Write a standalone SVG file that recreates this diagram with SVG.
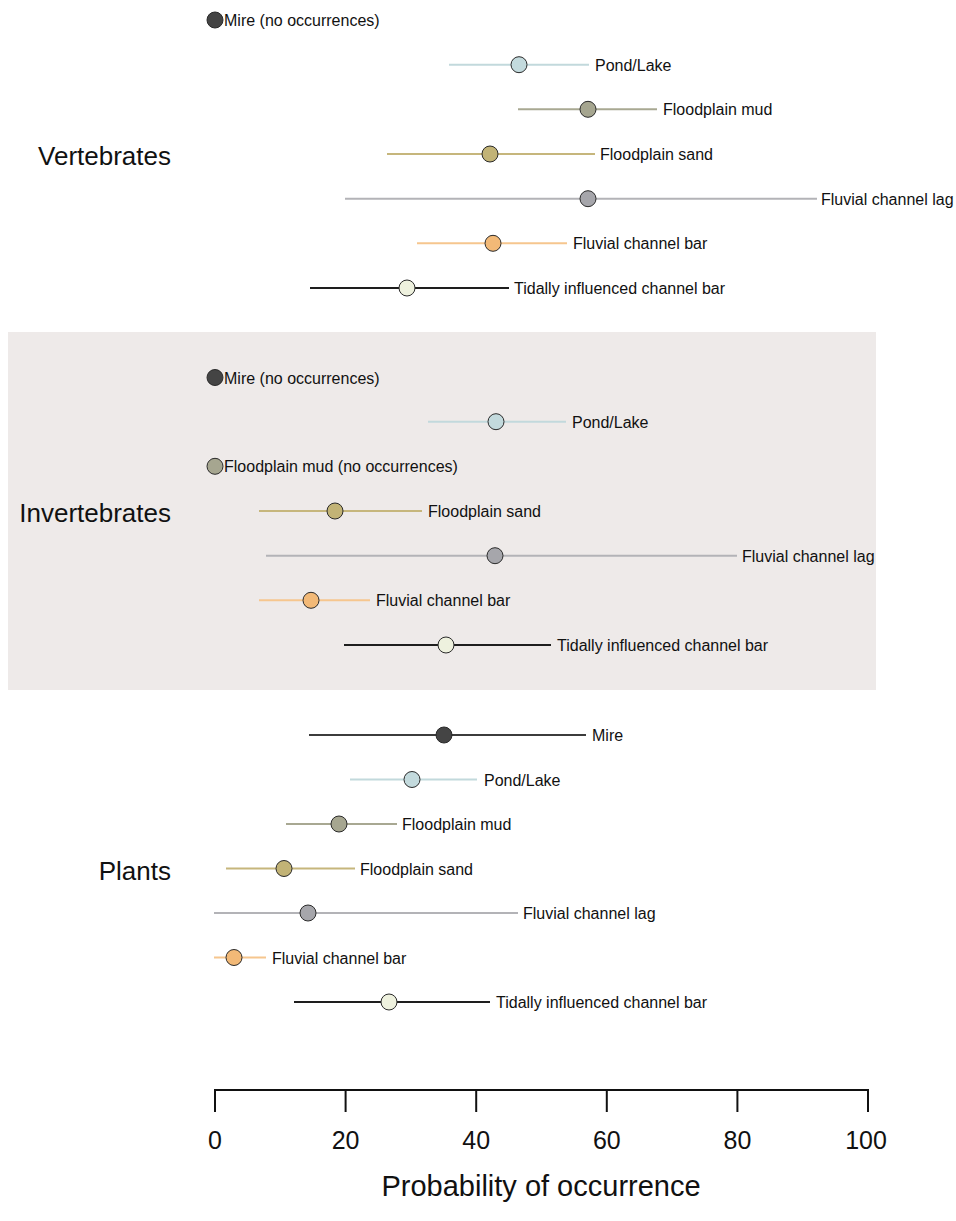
<svg xmlns="http://www.w3.org/2000/svg" width="956" height="1221" viewBox="0 0 956 1221">
<style>
text{font-family:"Liberation Sans",Arial,Helvetica,sans-serif;fill:#111}
.lbl{font-size:16px}
.grp{font-size:26px;text-anchor:end}
.tick{font-size:25px;text-anchor:middle}
.dot{stroke:#2a2a2a;stroke-width:1}
.bar{stroke-width:2;fill:none}
.mire{fill:#444}
.mireL{stroke:#3c3c3c}
.pond{fill:#c3dadd}
.pondL{stroke:#c2d9dc}
.mud{fill:#a6a690}
.mudL{stroke:#a8a892}
.sand{fill:#c2b376}
.sandL{stroke:#c6b67c}
.lag{fill:#a6a6ab}
.lagL{stroke:#b3b3b7}
.fbar{fill:#f2b977}
.fbarL{stroke:#f6c68e}
.tid{fill:#eef1de}
.tidL{stroke:#1e1e1e}
</style>
<rect id="invert-bg" x="8" y="332" width="868" height="358" fill="#eeeae9"/>
<g id="group-labels">
<text class="grp" x="171" y="165">Vertebrates</text>
<text class="grp" x="171" y="522">Invertebrates</text>
<text class="grp" x="171" y="880">Plants</text>
</g>
<g id="connectors">
<line class="bar pondL" x1="449" y1="64.7" x2="589" y2="64.7"/>
<line class="bar mudL" x1="518" y1="109.3" x2="657" y2="109.3"/>
<line class="bar sandL" x1="387" y1="154" x2="595" y2="154"/>
<line class="bar lagL" x1="345" y1="198.7" x2="817" y2="198.7"/>
<line class="bar fbarL" x1="417" y1="243.3" x2="567" y2="243.3"/>
<line class="bar tidL" x1="310" y1="288" x2="509" y2="288"/>
<line class="bar pondL" x1="428" y1="421.7" x2="566" y2="421.7"/>
<line class="bar sandL" x1="259" y1="511" x2="422" y2="511"/>
<line class="bar lagL" x1="266" y1="555.7" x2="737" y2="555.7"/>
<line class="bar fbarL" x1="259" y1="600.3" x2="370" y2="600.3"/>
<line class="bar tidL" x1="344" y1="645" x2="551" y2="645"/>
<line class="bar mireL" x1="309" y1="735" x2="586" y2="735"/>
<line class="bar pondL" x1="350" y1="779.5" x2="477" y2="779.5"/>
<line class="bar mudL" x1="286" y1="824" x2="397" y2="824"/>
<line class="bar sandL" x1="226" y1="868.5" x2="355" y2="868.5"/>
<line class="bar lagL" x1="214" y1="913" x2="518" y2="913"/>
<line class="bar fbarL" x1="214" y1="957.5" x2="266" y2="957.5"/>
<line class="bar tidL" x1="294" y1="1002" x2="490" y2="1002"/>
</g>
<g id="vertebrates">
<g id="v-mire"><circle class="dot mire" cx="215" cy="20" r="8"/><text class="lbl" x="224" y="26">Mire (no occurrences)</text></g>
<g id="v-pond"><circle class="dot pond" cx="519" cy="64.7" r="8"/><text class="lbl" x="595" y="70.7">Pond/Lake</text></g>
<g id="v-mud"><circle class="dot mud" cx="588" cy="109.3" r="8"/><text class="lbl" x="663" y="115.3">Floodplain mud</text></g>
<g id="v-sand"><circle class="dot sand" cx="490" cy="154" r="8"/><text class="lbl" x="600" y="160">Floodplain sand</text></g>
<g id="v-lag"><circle class="dot lag" cx="588" cy="198.7" r="8"/><text class="lbl" x="821" y="204.7">Fluvial channel lag</text></g>
<g id="v-bar"><circle class="dot fbar" cx="493" cy="243.3" r="8"/><text class="lbl" x="573" y="249.3">Fluvial channel bar</text></g>
<g id="v-tid"><circle class="dot tid" cx="407" cy="288" r="8"/><text class="lbl" x="514" y="294">Tidally influenced channel bar</text></g>
</g>
<g id="invertebrates">
<g id="i-mire"><circle class="dot mire" cx="215" cy="377.5" r="8"/><text class="lbl" x="224" y="383.5">Mire (no occurrences)</text></g>
<g id="i-pond"><circle class="dot pond" cx="496" cy="421.7" r="8"/><text class="lbl" x="572" y="427.7">Pond/Lake</text></g>
<g id="i-mud"><circle class="dot mud" cx="215" cy="466.3" r="8"/><text class="lbl" x="224" y="472.3">Floodplain mud (no occurrences)</text></g>
<g id="i-sand"><circle class="dot sand" cx="335" cy="511" r="8"/><text class="lbl" x="428" y="517">Floodplain sand</text></g>
<g id="i-lag"><circle class="dot lag" cx="495" cy="555.7" r="8"/><text class="lbl" x="742" y="561.7">Fluvial channel lag</text></g>
<g id="i-bar"><circle class="dot fbar" cx="311" cy="600.3" r="8"/><text class="lbl" x="376" y="606.3">Fluvial channel bar</text></g>
<g id="i-tid"><circle class="dot tid" cx="446" cy="645" r="8"/><text class="lbl" x="557" y="651">Tidally influenced channel bar</text></g>
</g>
<g id="plants">
<g id="p-mire"><circle class="dot mire" cx="444" cy="735" r="8"/><text class="lbl" x="592" y="741">Mire</text></g>
<g id="p-pond"><circle class="dot pond" cx="412" cy="779.5" r="8"/><text class="lbl" x="484" y="785.5">Pond/Lake</text></g>
<g id="p-mud"><circle class="dot mud" cx="339" cy="824" r="8"/><text class="lbl" x="402" y="830">Floodplain mud</text></g>
<g id="p-sand"><circle class="dot sand" cx="284" cy="868.5" r="8"/><text class="lbl" x="360" y="874.5">Floodplain sand</text></g>
<g id="p-lag"><circle class="dot lag" cx="308" cy="913" r="8"/><text class="lbl" x="523" y="919">Fluvial channel lag</text></g>
<g id="p-bar"><circle class="dot fbar" cx="234" cy="957.5" r="8"/><text class="lbl" x="272" y="963.5">Fluvial channel bar</text></g>
<g id="p-tid"><circle class="dot tid" cx="389" cy="1002" r="8"/><text class="lbl" x="496" y="1008">Tidally influenced channel bar</text></g>
</g>
<g id="axis" stroke="#111" stroke-width="2" fill="none">
<line x1="215" y1="1090" x2="868" y2="1090"/>
<line x1="215" y1="1089" x2="215" y2="1112"/>
<line x1="345.6" y1="1089" x2="345.6" y2="1112"/>
<line x1="476.2" y1="1089" x2="476.2" y2="1112"/>
<line x1="606.8" y1="1089" x2="606.8" y2="1112"/>
<line x1="737.4" y1="1089" x2="737.4" y2="1112"/>
<line x1="868" y1="1089" x2="868" y2="1112"/>
</g>
<g id="axis-labels">
<text class="tick" x="215" y="1149">0</text>
<text class="tick" x="345.6" y="1149">20</text>
<text class="tick" x="476.2" y="1149">40</text>
<text class="tick" x="606.8" y="1149">60</text>
<text class="tick" x="737.4" y="1149">80</text>
<text class="tick" x="866" y="1149">100</text>
<text x="541" y="1196" font-size="29" text-anchor="middle">Probability of occurrence</text>
</g>
</svg>
